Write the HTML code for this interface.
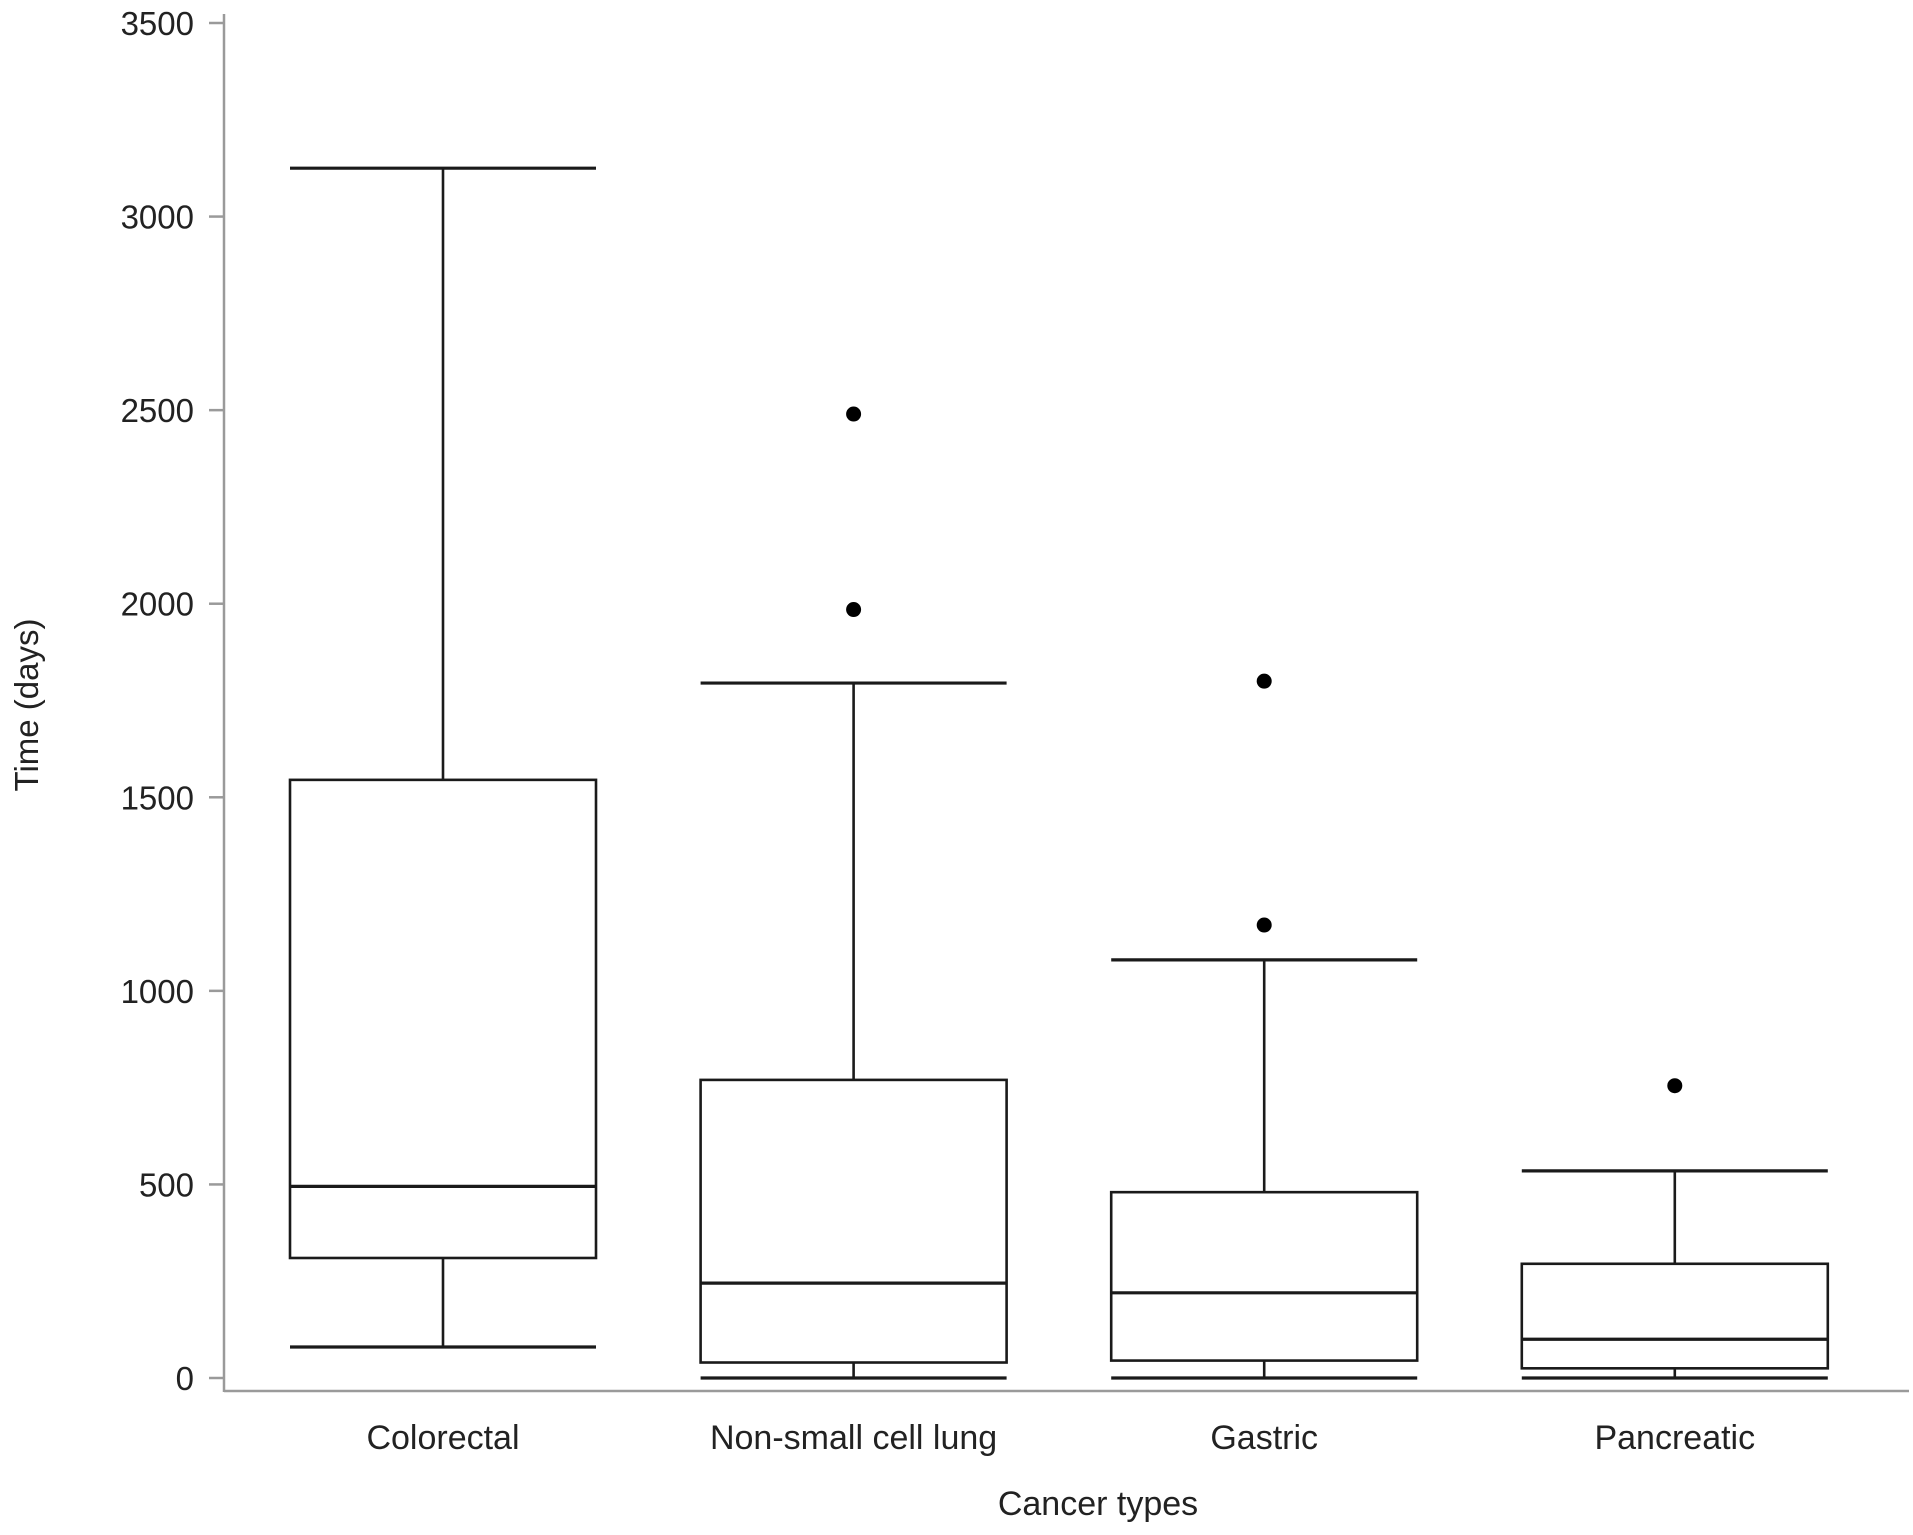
<!DOCTYPE html>
<html><head><meta charset="utf-8"><style>
html,body{margin:0;padding:0;background:#fff}
svg{display:block}
text{font-family:"Liberation Sans",Arial,sans-serif;fill:#222}
</style></head><body>
<svg id="chart" width="1913" height="1535" viewBox="0 0 1913 1535" xmlns="http://www.w3.org/2000/svg"></svg>
<script>
const categories = ["Colorectal", "Non-small cell lung", "Gastric", "Pancreatic"];
const whiskerHigh = [3125, 1795, 1080, 535];
const q3 = [1545, 770, 480, 295];
const median = [495, 245, 220, 100];
const q1 = [310, 40, 45, 25];
const whiskerLow = [80, 0, 0, 0];
const outliers = [[], [2490, 1985], [1800, 1170], [755]];
const yTicks = [0, 500, 1000, 1500, 2000, 2500, 3000, 3500];

const NS = "http://www.w3.org/2000/svg";
const svg = document.getElementById("chart");
const plotLeft = 224, plotRight = 1909, y0px = 1378, y3500px = 23;
function yScale(v){ return y0px - (v/3500)*(y0px - y3500px); }
const firstCenter = 443, step = 410.6, boxW = 306;
function xScale(i){ return firstCenter + i*step; }
function mk(tag, attrs, parent){
  const e = document.createElementNS(NS, tag);
  for (const k in attrs) e.setAttribute(k, attrs[k]);
  (parent||svg).appendChild(e);
  return e;
}
const yAxis = mk("line",{x1:plotLeft,y1:14,x2:plotLeft,y2:1392,stroke:"#9a9a9a","stroke-width":2.5});


const xAxis = mk("line",{x1:plotLeft,y1:1391,x2:plotRight,y2:1391,stroke:"#9a9a9a","stroke-width":2.5});


yTicks.forEach(t=>{
  const y = yScale(t);
  const tk = mk("line",{x1:209,y1:y,x2:plotLeft,y2:y,stroke:"#9a9a9a","stroke-width":2.5});
  
  
  const lb = mk("text",{x:194,y:y+12,"text-anchor":"end","font-size":33});
  lb.textContent = t;
  
  
});
categories.forEach((c,i)=>{
  const cx = xScale(i), L = cx-boxW/2, R = cx+boxW/2;
  const g = mk("g",{stroke:"#1a1a1a","stroke-width":2.6,fill:"none"});
  
  
  mk("line",{x1:cx,y1:yScale(whiskerHigh[i]),x2:cx,y2:yScale(q3[i])},g);
  mk("line",{x1:cx,y1:yScale(q1[i]),x2:cx,y2:yScale(whiskerLow[i])},g);
  mk("line",{x1:L,y1:yScale(whiskerHigh[i]),x2:R,y2:yScale(whiskerHigh[i]),"stroke-width":3.2},g);
  mk("line",{x1:L,y1:yScale(whiskerLow[i]),x2:R,y2:yScale(whiskerLow[i]),"stroke-width":3.2},g);
  mk("rect",{x:L,y:yScale(q3[i]),width:boxW,height:yScale(q1[i])-yScale(q3[i])},g);
  mk("line",{x1:L,y1:yScale(median[i]),x2:R,y2:yScale(median[i]),"stroke-width":3.2},g);
  outliers[i].forEach(v=>{
    const d = mk("circle",{cx:cx,cy:yScale(v),r:7.5,fill:"#000",stroke:"none"});
    
    
  });
  const lb = mk("text",{x:cx,y:1449,"text-anchor":"middle","font-size":34});
  lb.textContent = c;
  
  
});
const xt = mk("text",{x:1098,y:1515,"text-anchor":"middle","font-size":34});
xt.textContent = "Cancer types";


const yt = mk("text",{x:0,y:0,"text-anchor":"middle","font-size":33,transform:"translate(38,705) rotate(-90)"});
yt.textContent = "Time (days)";


</script>
</body></html>
